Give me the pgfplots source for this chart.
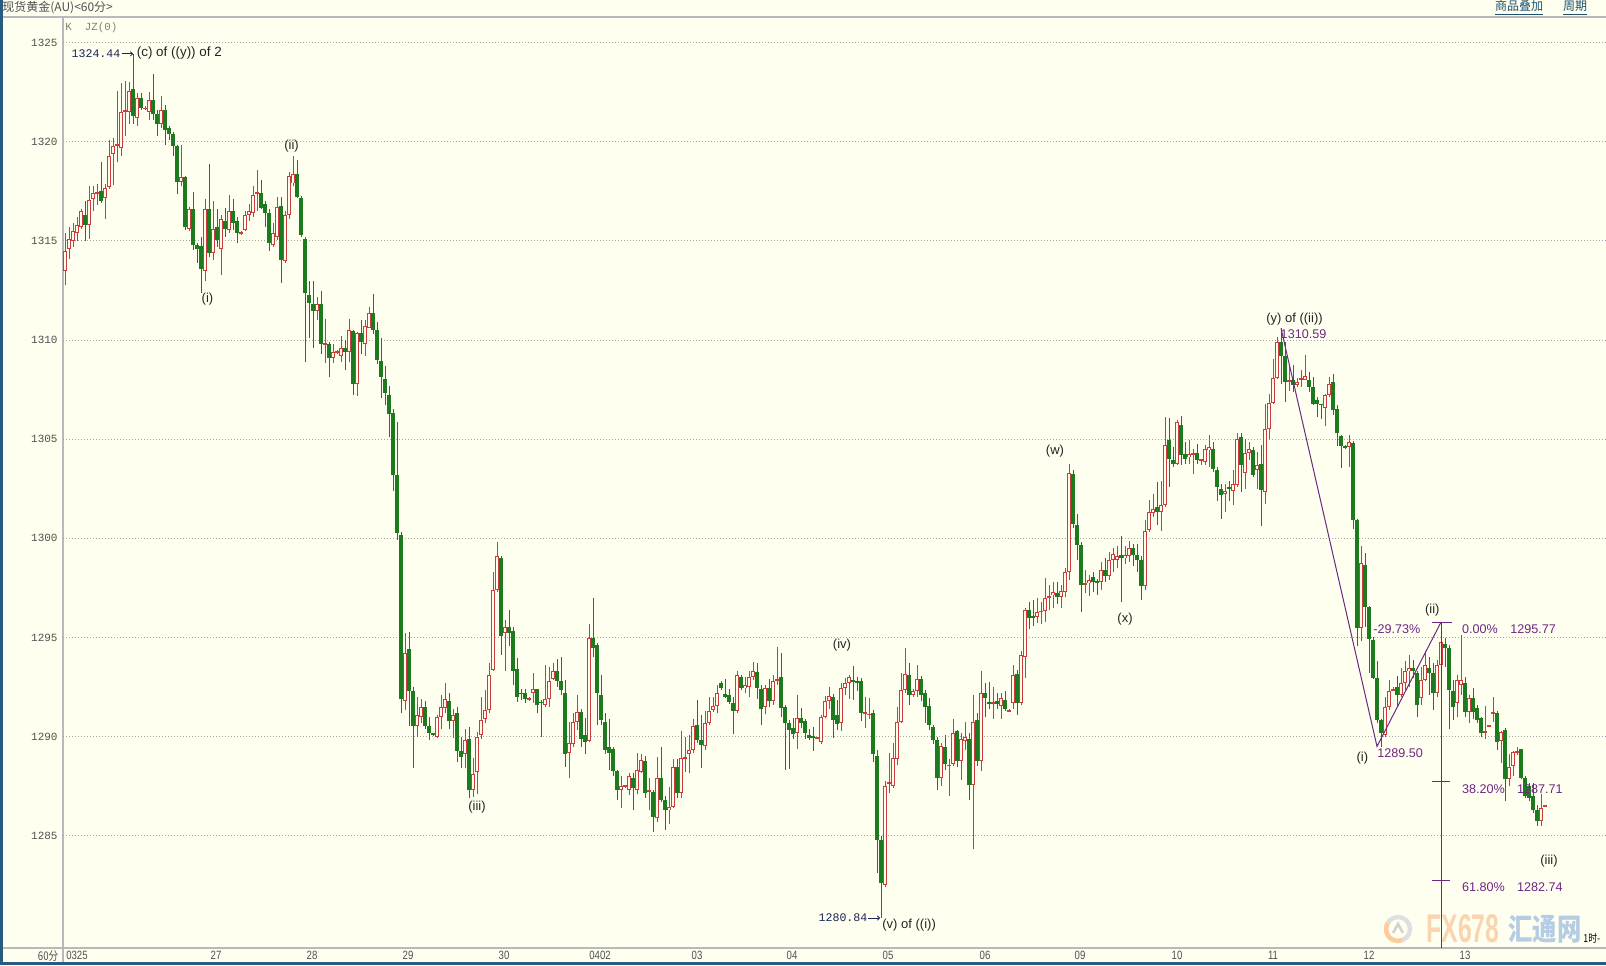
\documentclass[border=0pt]{standalone}
\usepackage{pgfplots}
\pgfplotsset{compat=1.18}
\usepackage{pgfplotstable}
\usetikzlibrary{arrows.meta}
\usepackage{fontspec}
\setmainfont{Liberation Sans}
\newfontfamily\monofont{Liberation Mono}
\newfontfamily\narrowfont[FakeStretch=0.8]{Liberation Sans}
\newfontfamily\wmfont[FakeStretch=0.62]{Liberation Sans}
\newfontfamily\cjk{Noto Sans CJK SC}
\newfontfamily\cjknarrow[FakeStretch=0.8]{Noto Sans CJK SC}
\definecolor{bg}{RGB}{255,255,240}
\definecolor{upred}{RGB}{205,60,60}
\definecolor{dngreen}{RGB}{30,122,30}
\definecolor{fibo}{RGB}{108,40,130}
\definecolor{gridc}{RGB}{165,165,165}
\definecolor{framec}{RGB}{185,185,185}
\definecolor{edgeblue}{RGB}{40,90,130}
\definecolor{navytxt}{RGB}{25,35,85}
\definecolor{linkc}{RGB}{30,80,110}
\definecolor{ticktxt}{RGB}{80,80,80}
\definecolor{lbl}{RGB}{35,35,35}

\pgfplotstableread{
x o h l c
65 1313.5 1315.4 1312.8 1314.5
69 1314.6 1315.7 1314.1 1315.1
73 1315.0 1315.9 1314.7 1315.5
77 1315.4 1316.2 1315.0 1315.8
81 1315.7 1316.6 1315.6 1316.5
85 1316.3 1317.0 1315.0 1315.8
89 1315.8 1317.8 1315.1 1317.1
93 1317.1 1317.8 1316.5 1317.4
97 1317.4 1317.9 1316.8 1317.5
101 1317.5 1319.0 1316.9 1317.0
105 1317.2 1317.9 1316.1 1317.7
109 1317.7 1320.1 1317.6 1319.3
113 1319.4 1320.2 1317.8 1319.8
117 1319.8 1322.6 1319.0 1319.9
121 1319.7 1323.0 1319.3 1321.5
125 1321.5 1323.1 1320.3 1321.6
129 1321.5 1323.0 1320.9 1322.6
133 1322.7 1324.44 1320.9 1321.3
137 1321.2 1322.5 1320.8 1322.2
141 1322.2 1322.5 1321.6 1321.7
145 1321.7 1321.8 1321.6 1321.7
149 1321.5 1322.5 1321.1 1322.1
153 1322.1 1323.4 1321.1 1321.4
157 1321.4 1321.6 1320.3 1320.9
161 1320.9 1322.3 1320.7 1321.6
165 1321.6 1321.9 1319.85 1320.6
169 1320.7 1320.8 1320.1 1320.4
173 1320.4 1320.5 1319.3 1319.8
177 1319.8 1319.85 1317.4 1318.0
181 1318.0 1319.85 1317.8 1318.25
185 1318.25 1318.3 1315.56 1315.7
189 1315.6 1316.7 1315.5 1316.6
193 1316.6 1317.5 1314.55 1314.8
197 1314.8 1314.9 1313.9 1314.6
201 1314.75 1315.2 1312.4 1313.6
205 1313.5 1317.1 1313.0 1316.6
209 1316.6 1318.9 1314.2 1314.4
213 1314.4 1317.0 1314.05 1315.6
217 1315.7 1316.6 1314.7 1315.05
221 1314.6 1316.3 1313.3 1316.1
225 1316.0 1316.65 1315.2 1315.6
229 1315.55 1317.3 1315.4 1316.5
233 1316.5 1317.1 1315.56 1315.9
237 1316.0 1316.2 1314.9 1315.4
241 1315.4 1315.5 1315.3 1315.4
245 1315.56 1316.5 1315.5 1316.3
249 1316.3 1316.9 1316.0 1316.5
253 1316.4 1317.8 1316.2 1317.3
257 1317.4 1318.6 1316.5 1317.45
261 1317.45 1318.1 1316.6 1316.7
265 1316.9 1317.0 1315.7 1316.4
269 1316.4 1316.6 1314.5 1314.9
273 1314.8 1315.9 1314.7 1315.4
277 1315.2 1317.2 1315.05 1316.7
281 1316.8 1317.2 1312.9 1314.05
285 1314.0 1316.5 1313.9 1316.3
289 1316.3 1318.5 1316.1 1318.3
293 1317.9 1319.3 1317.8 1318.4
297 1318.4 1319.1 1317.15 1317.2
301 1317.2 1317.3 1315.2 1315.3
305 1315.1 1315.2 1308.9 1312.4
309 1312.3 1313.0 1310.1 1311.9
313 1311.85 1313.0 1309.6 1311.5
317 1311.5 1312.2 1311.05 1311.85
321 1311.85 1312.5 1309.3 1309.8
325 1309.8 1311.05 1308.85 1309.8
329 1309.8 1309.9 1308.15 1309.1
333 1309.1 1309.8 1308.85 1309.4
337 1309.4 1309.5 1309.3 1309.4
341 1309.2 1310.2 1308.9 1309.6
345 1309.6 1310.0 1308.5 1309.4
349 1309.4 1311.05 1308.9 1310.5
353 1310.45 1310.5 1307.25 1307.8
357 1307.8 1310.4 1307.2 1310.35
361 1310.35 1311.0 1309.3 1309.9
365 1309.8 1311.0 1309.2 1310.7
369 1310.6 1311.7 1310.6 1311.4
373 1311.4 1312.3 1310.3 1310.5
377 1310.5 1310.9 1308.8 1309.0
381 1308.95 1310.1 1307.1 1308.15
385 1308.05 1308.7 1306.7 1307.35
389 1307.25 1307.7 1305.1 1306.3
393 1306.3 1306.55 1302.4 1303.2
397 1303.2 1305.9 1299.9 1300.3
401 1300.2 1300.3 1291.2 1291.9
405 1291.8 1295.25 1291.35 1294.2
409 1294.4 1295.25 1290.55 1292.3
413 1292.3 1292.5 1288.4 1290.55
417 1290.55 1292.0 1290.0 1291.1
421 1291.0 1291.9 1290.7 1291.5
425 1291.5 1291.8 1290.4 1290.55
429 1290.55 1291.0 1289.85 1290.2
433 1290.2 1290.2 1290.05 1290.1
437 1290.0 1291.1 1289.9 1291.0
441 1291.0 1292.1 1290.4 1291.5
445 1291.45 1292.7 1291.2 1291.9
449 1291.8 1292.2 1290.4 1290.8
453 1290.8 1291.4 1289.9 1291.1
457 1291.2 1291.5 1288.7 1289.3
461 1289.3 1290.0 1288.4 1289.0
465 1289.1 1290.4 1288.4 1289.85
469 1289.9 1290.5 1286.9 1287.3
473 1287.3 1288.9 1286.95 1288.1
477 1288.2 1290.25 1287.1 1290.0
481 1290.1 1292.0 1289.9 1290.85
485 1290.9 1292.35 1290.7 1291.35
489 1291.35 1293.7 1291.2 1293.1
493 1293.35 1298.3 1293.3 1297.4
497 1297.4 1299.8 1297.3 1299.1
501 1299.0 1299.1 1294.1 1295.1
505 1295.2 1295.9 1293.3 1295.5
509 1295.5 1296.4 1294.6 1295.2
513 1295.3 1295.55 1292.6 1293.3
517 1293.4 1293.95 1291.75 1292.0
521 1292.2 1292.4 1291.85 1292.15
525 1292.2 1292.4 1291.7 1291.9
529 1291.9 1292.0 1291.8 1291.9
533 1292.2 1293.2 1291.7 1292.4
537 1292.4 1292.4 1291.2 1291.6
541 1291.75 1291.85 1290.0 1291.7
545 1291.6 1293.6 1291.5 1291.9
549 1291.9 1293.5 1291.5 1292.8
553 1292.9 1293.7 1292.85 1293.3
557 1293.3 1293.9 1292.5 1292.8
561 1292.8 1294.0 1292.1 1292.35
565 1292.2 1292.85 1288.5 1289.1
569 1289.15 1290.75 1287.9 1289.65
573 1289.65 1291.2 1289.5 1290.75
577 1290.75 1292.1 1290.35 1291.25
581 1291.25 1291.4 1289.5 1289.9
585 1290.1 1290.95 1289.15 1289.75
589 1289.8 1295.7 1289.7 1295.0
593 1295.0 1297.0 1294.0 1294.5
597 1294.6 1294.7 1290.6 1292.2
601 1292.1 1293.1 1290.6 1290.85
605 1290.75 1291.2 1289.15 1289.35
609 1289.5 1290.9 1288.3 1289.15
613 1289.4 1289.5 1288.0 1288.25
617 1288.25 1288.3 1286.8 1287.3
621 1287.3 1288.0 1286.4 1287.5
625 1287.5 1287.5 1287.4 1287.5
629 1287.3 1288.15 1287.05 1288.0
633 1287.9 1288.15 1286.3 1287.4
637 1287.3 1289.15 1287.1 1288.3
641 1288.2 1289.15 1288.15 1288.8
645 1288.75 1289.0 1286.9 1287.15
649 1287.2 1287.9 1286.3 1287.3
653 1287.2 1287.3 1285.2 1285.95
657 1285.9 1289.0 1285.7 1287.9
661 1287.9 1289.5 1286.7 1286.8
665 1286.8 1287.0 1285.3 1286.3
669 1286.3 1287.45 1285.6 1286.45
673 1286.45 1288.9 1286.4 1288.5
677 1288.5 1288.85 1286.9 1287.15
681 1287.15 1290.3 1286.9 1288.9
685 1288.9 1290.0 1288.2 1289.0
689 1289.1 1290.1 1288.15 1289.3
693 1289.3 1290.9 1289.2 1290.55
697 1290.6 1291.85 1289.7 1289.85
701 1289.85 1291.1 1288.4 1289.6
705 1289.55 1291.3 1289.3 1290.7
709 1290.7 1292.0 1290.6 1291.3
713 1291.35 1292.0 1291.25 1291.55
717 1291.55 1292.6 1291.2 1292.2
721 1292.7 1292.8 1292.35 1292.45
725 1292.15 1292.9 1291.95 1292.0
729 1292.1 1292.4 1291.65 1291.75
733 1291.7 1292.0 1290.15 1291.3
737 1291.3 1293.3 1291.2 1293.1
741 1293.0 1293.1 1292.35 1292.45
745 1292.45 1293.0 1292.2 1292.6
749 1292.5 1293.3 1292.0 1293.0
753 1293.0 1293.75 1292.85 1293.3
757 1293.25 1293.7 1291.9 1292.45
761 1292.4 1292.6 1290.6 1291.4
765 1291.5 1292.6 1291.15 1292.45
769 1292.45 1292.9 1291.5 1291.8
773 1291.8 1293.1 1291.6 1292.8
777 1292.8 1294.5 1292.6 1292.9
781 1293.0 1294.2 1291.0 1291.45
785 1291.5 1291.6 1288.3 1290.7
789 1290.7 1290.85 1288.4 1290.35
793 1290.45 1290.95 1289.9 1290.15
797 1290.2 1292.1 1289.4 1290.95
801 1290.95 1291.45 1290.45 1290.7
805 1290.8 1290.9 1289.9 1290.2
809 1290.1 1290.4 1289.85 1289.95
813 1290.05 1290.5 1289.3 1289.95
817 1289.95 1290.0 1289.9 1289.95
821 1289.75 1291.1 1289.65 1291.0
825 1291.0 1292.05 1290.95 1291.8
829 1291.8 1292.5 1291.4 1292.05
833 1292.0 1292.15 1289.95 1290.85
837 1291.1 1291.85 1290.35 1290.65
841 1290.7 1292.7 1290.3 1292.45
845 1292.45 1292.95 1292.1 1292.7
849 1292.7 1293.1 1291.9 1293.0
853 1292.85 1293.55 1291.85 1292.8
857 1292.8 1293.0 1292.3 1292.7
861 1292.8 1292.95 1290.8 1291.2
865 1291.2 1292.0 1290.45 1291.25
869 1291.1 1291.95 1290.9 1291.15
873 1291.2 1291.35 1288.7 1289.1
877 1289.05 1289.3 1283.1 1284.8
881 1284.8 1285.0 1280.84 1282.6
885 1282.5 1287.75 1282.4 1287.5
889 1287.6 1289.2 1287.15 1287.7
893 1287.5 1289.7 1287.4 1288.9
897 1288.9 1291.5 1288.55 1290.75
901 1290.75 1293.2 1290.7 1292.35
905 1292.35 1294.45 1292.2 1293.15
909 1293.1 1293.7 1291.6 1292.1
913 1292.1 1292.4 1292.0 1292.3
917 1292.3 1293.6 1292.0 1292.9
921 1292.9 1293.05 1291.8 1292.1
925 1292.2 1292.35 1290.7 1291.5
929 1291.55 1291.95 1290.35 1290.6
933 1290.5 1290.6 1289.6 1289.85
937 1289.8 1290.0 1287.3 1287.9
941 1287.9 1289.7 1287.5 1289.5
945 1289.5 1290.1 1288.3 1288.65
949 1288.55 1288.85 1287.0 1288.55
953 1288.6 1290.9 1288.5 1290.2
957 1290.3 1290.35 1288.5 1288.75
961 1288.75 1290.2 1287.8 1289.9
965 1289.8 1290.75 1289.3 1290.0
969 1289.9 1290.2 1286.8 1287.55
973 1287.55 1292.1 1284.3 1290.75
977 1290.85 1291.2 1288.5 1288.75
981 1288.75 1293.3 1288.25 1292.2
985 1292.2 1292.7 1291.0 1291.95
989 1291.75 1292.75 1291.4 1291.65
993 1291.65 1292.5 1290.9 1291.75
997 1291.8 1292.2 1291.4 1291.65
1001 1291.55 1292.2 1290.9 1291.95
1005 1291.85 1292.3 1291.3 1291.4
1009 1291.3 1291.4 1291.25 1291.3
1013 1291.7 1293.6 1291.4 1293.1
1017 1293.15 1293.35 1291.1 1291.7
1021 1291.7 1294.3 1291.6 1294.1
1025 1294.05 1296.5 1292.95 1296.4
1029 1296.4 1296.8 1295.4 1296.0
1033 1296.05 1296.9 1295.6 1296.0
1037 1296.05 1297.0 1295.75 1296.3
1041 1296.3 1296.8 1295.7 1296.35
1045 1296.35 1298.0 1295.8 1297.0
1049 1297.0 1297.65 1296.4 1297.1
1053 1297.15 1297.8 1296.5 1297.3
1057 1297.25 1297.8 1296.7 1297.05
1061 1297.05 1297.65 1296.5 1297.35
1065 1297.3 1298.5 1297.05 1298.3
1069 1298.3 1303.75 1297.9 1303.3
1073 1303.25 1303.45 1300.5 1300.75
1077 1300.7 1301.25 1298.9 1299.65
1081 1299.7 1299.8 1296.3 1297.65
1085 1297.65 1298.4 1297.25 1297.75
1089 1297.75 1298.15 1297.1 1297.9
1093 1298.05 1298.3 1297.3 1297.8
1097 1297.85 1297.95 1297.15 1297.8
1101 1297.8 1298.8 1297.4 1298.4
1105 1298.4 1299.0 1297.8 1298.1
1109 1298.1 1299.3 1297.9 1298.9
1113 1298.9 1299.5 1298.3 1299.2
1117 1298.9 1299.6 1298.5 1299.1
1121 1299.15 1300.1 1296.8 1299.0
1125 1299.0 1299.6 1298.7 1299.15
1129 1299.1 1299.85 1298.8 1299.5
1133 1299.5 1299.75 1298.6 1299.15
1137 1299.15 1299.75 1298.3 1298.9
1141 1298.9 1299.1 1296.9 1297.6
1145 1297.6 1300.9 1297.4 1300.35
1149 1300.4 1301.95 1300.3 1301.35
1153 1301.3 1302.25 1301.1 1301.5
1157 1301.6 1302.85 1300.7 1301.35
1161 1301.35 1302.9 1300.35 1301.7
1165 1301.7 1306.1 1301.6 1304.7
1169 1304.95 1306.1 1302.6 1304.0
1173 1303.95 1304.6 1303.6 1303.75
1177 1303.75 1305.95 1303.7 1305.85
1181 1305.75 1306.15 1303.7 1304.2
1185 1304.25 1304.85 1303.75 1304.0
1189 1304.1 1304.95 1303.75 1304.25
1193 1304.25 1304.5 1303.25 1304.3
1197 1304.3 1304.75 1303.75 1303.95
1201 1303.95 1304.0 1303.7 1303.95
1205 1303.85 1304.7 1303.7 1304.5
1209 1304.45 1305.2 1303.6 1304.6
1213 1304.5 1304.85 1303.35 1303.5
1217 1303.45 1303.6 1301.9 1302.6
1221 1302.5 1302.75 1301.0 1302.2
1225 1302.25 1302.75 1301.35 1302.4
1229 1302.6 1302.9 1301.9 1302.5
1233 1302.4 1303.45 1301.7 1302.75
1237 1302.7 1305.3 1302.6 1305.0
1241 1305.1 1305.3 1302.35 1303.7
1245 1303.3 1305.0 1302.5 1304.3
1249 1304.3 1304.85 1303.95 1304.5
1253 1304.45 1304.6 1303.1 1303.2
1257 1303.45 1304.35 1302.5 1303.7
1261 1303.75 1304.7 1300.65 1302.45
1265 1302.35 1306.8 1301.75 1305.5
1269 1305.5 1307.3 1305.0 1306.85
1273 1306.85 1309.05 1306.8 1308.1
1277 1308.1 1310.15 1308.05 1309.9
1281 1309.9 1310.59 1307.8 1309.2
1285 1309.2 1309.9 1306.9 1307.9
1289 1307.95 1308.8 1307.45 1307.95
1293 1308.0 1308.75 1307.4 1307.75
1297 1307.75 1308.1 1307.65 1307.9
1301 1308.0 1308.5 1307.65 1308.1
1305 1308.0 1309.25 1308.0 1308.2
1309 1308.0 1308.4 1307.4 1307.65
1313 1307.65 1308.15 1306.75 1306.8
1317 1307.0 1307.15 1306.15 1306.8
1321 1306.8 1306.8 1306.0 1306.75
1325 1306.6 1307.3 1305.7 1307.25
1329 1307.25 1308.15 1307.15 1307.8
1333 1307.9 1308.3 1306.25 1306.5
1337 1306.55 1306.75 1304.65 1305.3
1341 1305.15 1305.2 1303.55 1304.65
1345 1304.65 1304.7 1304.5 1304.6
1349 1304.6 1305.2 1303.6 1304.85
1353 1304.8 1304.9 1300.5 1300.95
1357 1300.95 1301.0 1294.6 1295.5
1361 1295.5 1299.6 1294.8 1298.75
1365 1298.65 1299.25 1295.55 1296.55
1369 1296.55 1296.6 1293.2 1294.9
1373 1294.9 1295.0 1292.9 1292.95
1377 1292.95 1293.8 1290.7 1290.85
1381 1290.85 1290.9 1289.5 1290.2
1385 1290.1 1292.0 1290.0 1291.5
1389 1291.5 1292.85 1291.35 1292.3
1393 1292.35 1292.5 1292.3 1292.4
1397 1292.5 1293.05 1291.5 1292.1
1401 1292.1 1293.45 1292.0 1292.7
1405 1292.7 1293.8 1292.35 1293.3
1409 1293.3 1294.1 1292.5 1293.45
1413 1293.45 1293.85 1292.95 1293.3
1417 1293.2 1293.3 1291.0 1291.6
1421 1291.95 1293.5 1291.6 1292.85
1425 1292.85 1294.3 1292.8 1293.6
1429 1293.45 1294.0 1292.1 1293.2
1433 1293.2 1293.7 1291.35 1292.2
1437 1292.2 1293.85 1292.0 1293.6
1441 1293.6 1295.77 1293.5 1294.8
1445 1294.7 1295.0 1293.5 1294.5
1449 1294.45 1294.6 1290.4 1292.35
1453 1292.3 1292.85 1290.85 1291.5
1457 1291.7 1293.1 1291.0 1292.85
1461 1292.6 1295.1 1292.1 1292.85
1465 1292.7 1293.0 1291.0 1291.25
1469 1291.25 1292.1 1290.7 1291.95
1473 1291.95 1292.45 1290.9 1291.25
1477 1291.45 1291.6 1290.7 1290.85
1481 1290.95 1291.0 1290.0 1290.2
1485 1290.25 1291.55 1289.85 1290.25
1489 1290.55 1290.6 1290.5 1290.55
1493 1291.2 1292.0 1290.75 1291.25
1497 1291.2 1291.3 1289.35 1289.75
1501 1289.75 1290.3 1288.65 1290.25
1505 1290.35 1290.45 1286.75 1287.85
1509 1287.85 1289.15 1287.5 1288.5
1513 1288.5 1289.25 1288.0 1289.2
1517 1289.2 1289.5 1289.1 1289.25
1521 1289.35 1289.4 1287.85 1287.9
1525 1287.9 1288.0 1286.9 1287.0
1529 1287.5 1287.65 1286.75 1286.9
1533 1287.0 1287.65 1286.15 1286.3
1537 1286.3 1286.55 1285.5 1285.75
1541 1285.75 1287.1 1285.5 1286.4
1545 1286.5 1286.55 1286.45 1286.5
}\candles

\begin{document}
\begin{tikzpicture}[x=1pt,y=1pt]
\fill[bg] (0,0) rectangle (803,482.5);
% watermark (behind)
\draw[gray!25, line width=2.2pt] (699,18) circle (6);
\draw[orange!40, line width=2.2pt] (699,18) ++(150:6) arc (150:290:6);
\draw[gray!35, line width=1.3pt] (696.5,16) -- (699,20.5) -- (701.5,16);
\node[anchor=west, inner sep=0pt, text={rgb,255:red,250;green,212;blue,175}, font=\wmfont\bfseries\fontsize{20}{20}\selectfont] at (713,18) {FX678};
\node[anchor=west, inner sep=0pt, text={rgb,255:red,182;green,204;blue,228}, font=\cjknarrow\bfseries\fontsize{15.2}{16}\selectfont] at (754,18) {汇通网};
% frame
\draw[framec, line width=0.8pt] (0,474) -- (803,474);
\draw[framec, line width=0.6pt] (0,8.5) -- (803,8.5);
\draw[framec, line width=0.6pt] (31.5,474) -- (31.5,1.5);
\fill[edgeblue] (0,0) rectangle (1.3,482.5);
\fill[edgeblue] (0,0) rectangle (803,1.4);

\begin{axis}[
  at={(31.5pt,8.5pt)}, anchor=south west,
  scale only axis, width=771.5pt, height=465.5pt,
  xmin=63, xmax=1606, ymin=1279.33, ymax=1326.3,
  axis line style={draw=none},
  major tick length=0pt, tick style={draw=none},
  ytick={1285,1290,1295,1300,1305,1310,1315,1320,1325},
  yticklabels={1285,1290,1295,1300,1305,1310,1315,1320,1325},
  yticklabel style={font=\monofont\fontsize{5.5}{6}\selectfont, text=ticktxt, anchor=east, inner sep=0pt, xshift=-2.5pt},
  xtick={77,216,312,408,504,600,697,792,888,985,1080,1177,1273,1369,1465},
  xticklabels={0325,27,28,29,30,0402,03,04,05,06,09,10,11,12,13},
  xticklabel style={font=\narrowfont\fontsize{6}{7}\selectfont, text=ticktxt, anchor=center, inner sep=0pt, yshift=-3.5pt},
  ymajorgrids,
  grid style={gridc, line width=0.5pt, dash pattern=on 0.5pt off 1pt},
]
% wicks
\addplot[draw=none, mark=none, forget plot, error bars/.cd, y dir=both, y explicit, error mark=none, error bar style={draw=upred, line width=0.5pt}]
  table[x=x, y expr={\thisrow{c}>=\thisrow{o} ? (\thisrow{h}+\thisrow{l})/2 : nan}, y error expr={(\thisrow{h}-\thisrow{l})/2}] {\candles};
\addplot[draw=none, mark=none, forget plot, error bars/.cd, y dir=both, y explicit, error mark=none, error bar style={draw=dngreen, line width=0.5pt}]
  table[x=x, y expr={\thisrow{c}<\thisrow{o} ? (\thisrow{h}+\thisrow{l})/2 : nan}, y error expr={(\thisrow{h}-\thisrow{l})/2}] {\candles};
% bodies
\addplot[draw=none, mark=none, forget plot, error bars/.cd, y dir=both, y explicit, error mark=none, error bar style={draw=upred, line width=1.6pt}]
  table[x=x, y expr={\thisrow{c}>=\thisrow{o} ? (\thisrow{o}+\thisrow{c})/2 : nan}, y error expr={max(abs(\thisrow{c}-\thisrow{o})/2,0.04)}] {\candles};
\addplot[draw=none, mark=none, forget plot, error bars/.cd, y dir=both, y explicit, error mark=none, error bar style={draw=bg, line width=0.6pt}]
  table[x=x, y expr={\thisrow{c}>=\thisrow{o} ? (\thisrow{o}+\thisrow{c})/2 : nan}, y error expr={max(abs(\thisrow{c}-\thisrow{o})/2-0.05,0)}] {\candles};
\addplot[draw=none, mark=none, forget plot, error bars/.cd, y dir=both, y explicit, error mark=none, error bar style={draw=dngreen, line width=1.6pt}]
  table[x=x, y expr={\thisrow{c}<\thisrow{o} ? (\thisrow{o}+\thisrow{c})/2 : nan}, y error expr={max(abs(\thisrow{o}-\thisrow{c})/2,0.04)}] {\candles};

% Fibonacci drawing
\addplot[fibo, line width=0.5pt, mark=none, forget plot] coordinates {(1281,1310.59) (1377,1289.50) (1441,1295.77)};
\addplot[fibo, line width=0.5pt, mark=none, forget plot] coordinates {(1441,1295.77) (1441,1279.33)};
\addplot[fibo, line width=0.5pt, mark=none, forget plot] coordinates {(1431.5,1295.77) (1451.5,1295.77)};
\addplot[fibo, line width=0.5pt, mark=none, forget plot] coordinates {(1431.5,1287.71) (1450,1287.71)};
\addplot[fibo, line width=0.5pt, mark=none, forget plot] coordinates {(1431.5,1282.74) (1450,1282.74)};

% annotations
\node[font=\monofont\fontsize{5.8}{6}\selectfont, text=navytxt, inner sep=0pt] at (axis cs:96,1324.44) {1324.44};
\draw[navytxt, line width=0.4pt, -{To[length=1.5pt,width=2.5pt]}] (axis cs:121.5,1324.44) -- (axis cs:133,1324.44);
\node[anchor=west, font=\fontsize{6.7}{7}\selectfont, text=lbl, inner sep=0pt] at (axis cs:136.5,1324.47) {(c) of ((y)) of 2};
\node[font=\fontsize{6.5}{7}\selectfont, text=lbl, inner sep=0pt] at (axis cs:291.5,1319.8) {(ii)};
\node[font=\fontsize{6.5}{7}\selectfont, text=lbl, inner sep=0pt] at (axis cs:207.5,1312.05) {(i)};
\node[font=\fontsize{6.5}{7}\selectfont, text=lbl, inner sep=0pt] at (axis cs:477,1286.45) {(iii)};
\node[font=\fontsize{6.5}{7}\selectfont, text=lbl, inner sep=0pt] at (axis cs:842,1294.6) {(iv)};
\node[font=\monofont\fontsize{5.8}{6}\selectfont, text=navytxt, inner sep=0pt] at (axis cs:843,1280.84) {1280.84};
\draw[navytxt, line width=0.4pt, -{To[length=1.5pt,width=2.5pt]}] (axis cs:868,1280.84) -- (axis cs:880,1280.84);
\node[anchor=west, font=\fontsize{6.5}{7}\selectfont, text=lbl, inner sep=0pt] at (axis cs:882,1280.49) {(v) of ((i))};
\node[font=\fontsize{6.5}{7}\selectfont, text=lbl, inner sep=0pt] at (axis cs:1055,1304.38) {(w)};
\node[font=\fontsize{6.5}{7}\selectfont, text=lbl, inner sep=0pt] at (axis cs:1125,1295.9) {(x)};
\node[font=\fontsize{6.5}{7}\selectfont, text=lbl, inner sep=0pt] at (axis cs:1294.5,1311.04) {(y) of ((ii))};
\node[font=\fontsize{6.3}{7}\selectfont, text=fibo, inner sep=0pt] at (axis cs:1303.5,1310.3) {1310.59};
\node[anchor=west, font=\fontsize{6.3}{7}\selectfont, text=fibo, inner sep=0pt] at (axis cs:1373,1295.42) {-29.73\%};
\node[anchor=west, font=\fontsize{6.3}{7}\selectfont, text=fibo, inner sep=0pt] at (axis cs:1461.7,1295.42) {0.00\%};
\node[anchor=west, font=\fontsize{6.3}{7}\selectfont, text=fibo, inner sep=0pt] at (axis cs:1510,1295.42) {1295.77};
\node[anchor=west, font=\fontsize{6.3}{7}\selectfont, text=fibo, inner sep=0pt] at (axis cs:1461.7,1287.35) {38.20\%};
\node[anchor=west, font=\fontsize{6.3}{7}\selectfont, text=fibo, inner sep=0pt] at (axis cs:1516.7,1287.35) {1287.71};
\node[anchor=west, font=\fontsize{6.3}{7}\selectfont, text=fibo, inner sep=0pt] at (axis cs:1461.7,1282.42) {61.80\%};
\node[anchor=west, font=\fontsize{6.3}{7}\selectfont, text=fibo, inner sep=0pt] at (axis cs:1516.7,1282.42) {1282.74};
\node[font=\fontsize{6.5}{7}\selectfont, text=lbl, inner sep=0pt] at (axis cs:1362.3,1288.9) {(i)};
\node[anchor=west, font=\fontsize{6.3}{7}\selectfont, text=fibo, inner sep=0pt] at (axis cs:1377,1289.17) {1289.50};
\node[font=\fontsize{6.5}{7}\selectfont, text=lbl, inner sep=0pt] at (axis cs:1432.3,1296.4) {(ii)};
\node[font=\fontsize{6.5}{7}\selectfont, text=lbl, inner sep=0pt] at (axis cs:1549,1283.7) {(iii)};
\end{axis}

% texts outside the plot area
\node[anchor=west, inner sep=0pt, text=ticktxt, font=\cjk\fontsize{6}{7}\selectfont] at (1,478.5) {现货黄金(AU)<60分>};
\node[inner sep=0pt, text=linkc, font=\cjk\fontsize{6}{7}\selectfont] at (759.5,478.5) {\underline{商品叠加}};
\node[inner sep=0pt, text=linkc, font=\cjk\fontsize{6}{7}\selectfont] at (787.5,478.5) {\underline{周期}};
\node[anchor=west, inner sep=0pt, text=gray, font=\monofont\fontsize{5.4}{6}\selectfont] at (32.5,468.5) {K\ \ JZ(0)};
\node[anchor=east, inner sep=0pt, text=ticktxt, font=\cjknarrow\fontsize{6}{7}\selectfont] at (29.3,4.6) {60分};
\node[anchor=west, inner sep=0pt, text=black, font=\cjknarrow\fontsize{5.5}{6}\selectfont] at (791.5,13.5) {1时-};
\pgfresetboundingbox
\path[use as bounding box] (0,0) rectangle (803,482.5);
\end{tikzpicture}
\end{document}
